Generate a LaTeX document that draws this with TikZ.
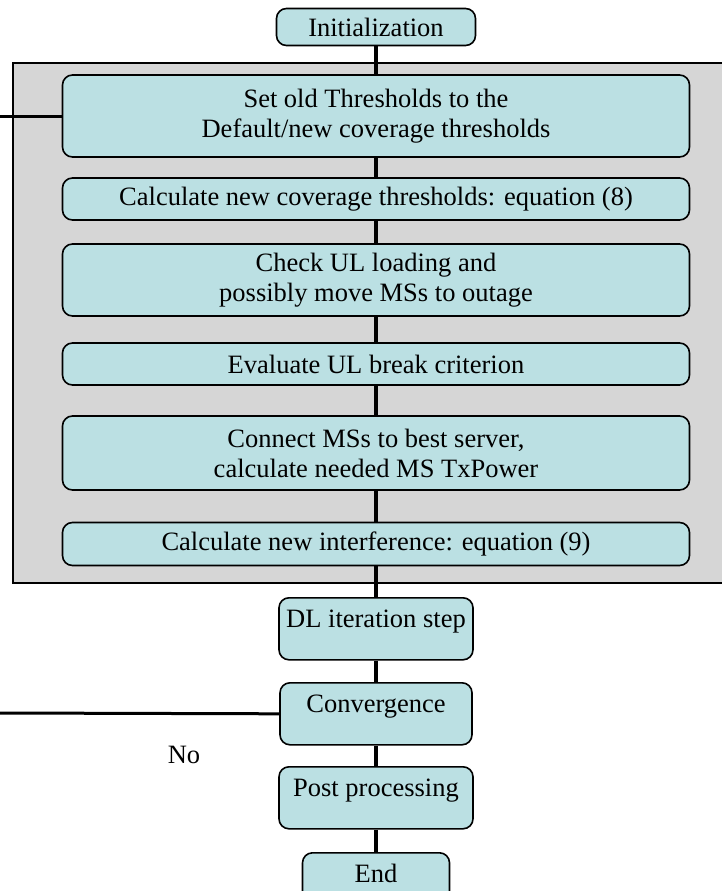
\documentclass[tikz,border=0pt]{standalone}
\usepackage{fontspec}
\setmainfont{Liberation Serif}
\usetikzlibrary{positioning}
\definecolor{boxcyan}{RGB}{187,224,227}
\definecolor{panelgray}{RGB}{214,214,214}
\tikzstyle{line} = [draw, line width=4pt]

\begin{document}
\begin{tikzpicture}[x=1pt, y=1pt, stepbox/.style={draw=black, fill=boxcyan, line width=1.6pt, rounded corners=10pt, align=center, font=\fontsize{26.5}{30}\selectfont, inner sep=0pt}, widebox/.style={stepbox, minimum width=627pt}, topbox/.style={stepbox, anchor=north, inner xsep=4pt, inner ysep=4pt, text height=26pt, text depth=28pt}]

    \useasboundingbox (0,0) rectangle (722,-891);

    % gray panel round the UL loop
    \draw[fill=panelgray, line width=1.8pt] (13,-63) rectangle (740,-583);

    \node[stepbox, minimum width=199pt, minimum height=37pt] (init) at (376,-27) {Initialization};

    \node[widebox, minimum height=82pt] (setold) at (376,-116) {Set old Thresholds to the\\ Default/new coverage thresholds};
    \node[widebox, minimum height=42pt] (calccov) at (376,-199) {Calculate new coverage thresholds: equation (8)};
    \node[widebox, minimum height=72pt] (checkul) at (376,-280) {Check UL loading and\\ possibly move MSs to outage};
    \node[widebox, minimum height=42pt] (ulbreak) at (376,-364) {Evaluate UL break criterion};
    \node[widebox, minimum height=74pt] (connect) at (376,-453) {Connect MSs to best server,\\ calculate needed MS TxPower};
    \node[widebox, minimum height=43pt] (calcint) at (376,-544) {Calculate new interference: equation (9)};

    \node[topbox, minimum width=194pt] (dlstep) at (376,-597) {DL iteration step};
    \node[topbox, minimum width=192pt] (conv) at (376,-682) {Convergence};
    \node[topbox, minimum width=194pt] (post) at (376,-766) {Post processing};
    \node[topbox, minimum width=147pt] (finish) at (376,-852) {End};

    \node[font=\fontsize{26.5}{30}\selectfont] (no) at (184,-755) {No};

    \coordinate (loopin) at (0,-116);
    \coordinate (loopout) at (0,-713);

    \path[line] (init) -- (setold);
    \path[line] (setold) -- (calccov);
    \path[line] (calccov) -- (checkul);
    \path[line] (checkul) -- (ulbreak);
    \path[line] (ulbreak) -- (connect);
    \path[line] (connect) -- (calcint);
    \path[line] (calcint) -- (dlstep);
    \path[line] (dlstep) -- (conv);
    \path[line] (conv) -- (post);
    \path[line] (post) -- (finish);

    \draw[line width=3pt] (setold.west) -- (loopin);
    \draw[line width=3pt] (conv.west) -- (loopout);

\end{tikzpicture}
\end{document}
